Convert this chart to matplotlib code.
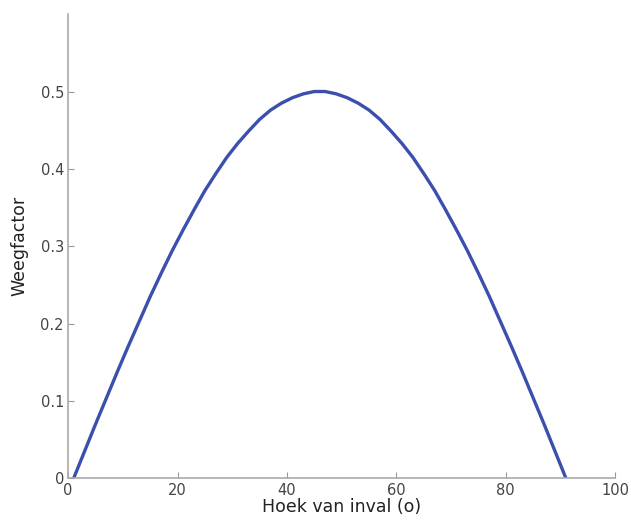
import numpy as np
import matplotlib
matplotlib.use('Agg')
from matplotlib import pyplot as plt

# hoek van inval (graden) en weegfactor
hoek = [1, 3, 5, 7, 9, 11, 13, 15, 17, 19, 21, 23, 25, 27, 29, 31, 33, 35, 37, 39, 41, 43, 45,
        47, 49, 51, 53, 55, 57, 59, 61, 63, 65, 67, 69, 71, 73, 75, 77, 79, 81, 83, 85, 87, 89, 91]
weegfactor = [0.0, 0.035, 0.070, 0.104, 0.138, 0.171, 0.203, 0.235, 0.265, 0.294, 0.321, 0.347,
              0.372, 0.394, 0.415, 0.433, 0.449, 0.464, 0.476, 0.485, 0.492, 0.497, 0.500,
              0.500, 0.497, 0.492, 0.485, 0.476, 0.464, 0.449, 0.433, 0.415, 0.394, 0.372,
              0.347, 0.321, 0.294, 0.265, 0.235, 0.203, 0.171, 0.138, 0.104, 0.070, 0.035, 0.0]

xticks = [0, 20, 40, 60, 80, 100]
xtick_labels = ['0', '20', '40', '60', '80', '100']
yticks = [0, 0.1, 0.2, 0.3, 0.4, 0.5]
ytick_labels = ['0', '0.1', '0.2', '0.3', '0.4', '0.5']

fig = plt.figure(figsize=(6.31, 5.24), dpi=100)
ax = fig.add_axes([0.108, 0.087, 0.867, 0.886])

ax.plot(hoek, weegfactor, color='#3b4fad', linewidth=2.4,
        solid_capstyle='butt', solid_joinstyle='round')

ax.set_xlim(0, 100)
ax.set_ylim(0, 0.6)
ax.set_xticks(xticks)
ax.set_xticklabels(xtick_labels)
ax.set_yticks(yticks)
ax.set_yticklabels(ytick_labels)

for s in ['top', 'right']:
    ax.spines[s].set_visible(False)
for s in ['left', 'bottom']:
    ax.spines[s].set_color('#aaaaaa')
    ax.spines[s].set_linewidth(1.2)

ax.tick_params(direction='in', length=4, color='#999999', labelsize=10.5,
               labelcolor='#444444', pad=3)

ax.set_xlabel('Hoek van inval (o)', fontsize=12.5, color='#222222', labelpad=0)
ax.set_ylabel('Weegfactor', fontsize=12.5, color='#222222', labelpad=9)

plt.savefig('out.png', dpi=100)
